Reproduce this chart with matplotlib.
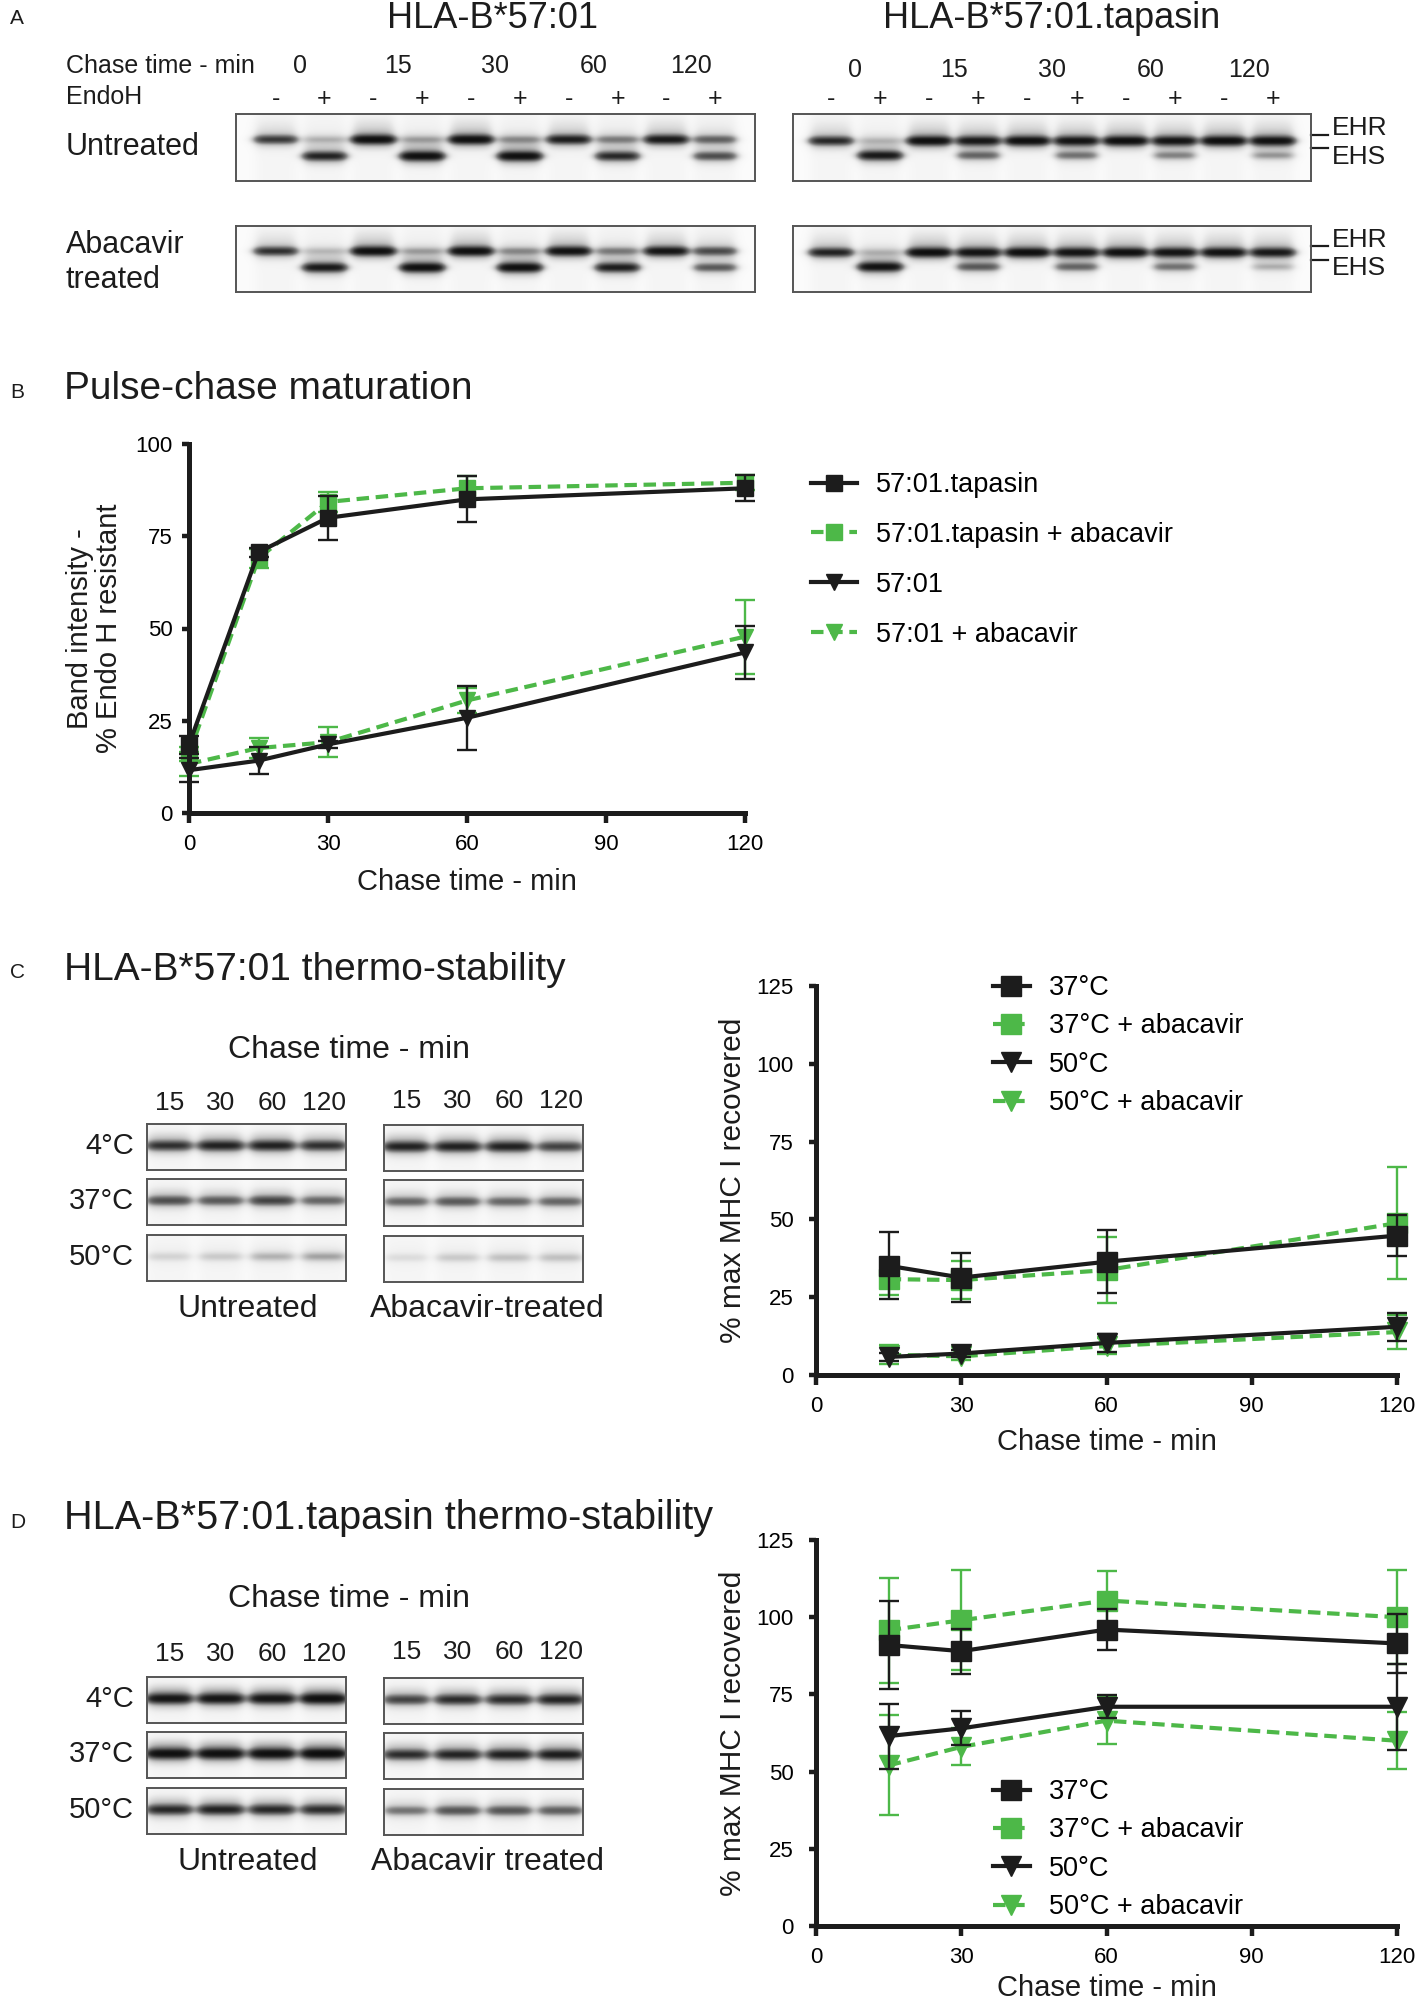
import numpy as np
import matplotlib
matplotlib.use("Agg")
import matplotlib.pyplot as plt
from matplotlib import transforms

plt.rcParams['font.family'] = ['Liberation Sans', 'DejaVu Sans']

# ===== Config =====
W, H = 1418, 2002          # output size in pixels (dpi 100)
BLACK = '#1c1c1c'
GREEN = '#4db848'
TICK_SIZE = 16
# ==================

# ----- panel A gels: (EHR, EHS) band strength per lane, lanes 0-,0+,15-,15+ ... 120+ -----
a_times = ['0', '15', '30', '60', '120']
a_endoh = ['-', '+'] * 5
gel_5701_untreated = [(0.55, 0.0), (0.12, 0.70), (0.95, 0.0), (0.15, 0.95), (0.95, 0.0),
                      (0.20, 0.95), (0.75, 0.0), (0.25, 0.65), (0.80, 0.0), (0.35, 0.45)]
gel_5701_abacavir = [(0.60, 0.0), (0.10, 0.80), (0.95, 0.0), (0.15, 0.95), (0.95, 0.0),
                     (0.20, 0.95), (0.90, 0.0), (0.25, 0.75), (0.85, 0.0), (0.45, 0.40)]
gel_tap_untreated = [(0.65, 0.0), (0.10, 0.80), (0.95, 0.0), (0.80, 0.35), (0.95, 0.0),
                     (0.85, 0.30), (0.97, 0.0), (0.85, 0.25), (0.97, 0.0), (0.90, 0.20)]
gel_tap_abacavir = [(0.70, 0.0), (0.10, 0.90), (0.97, 0.0), (0.85, 0.40), (0.97, 0.0),
                    (0.85, 0.35), (0.95, 0.0), (0.85, 0.30), (0.90, 0.0), (0.80, 0.15)]

# ----- panel B: pulse-chase maturation -----
b_time = [0, 15, 30, 60, 120]
tap = [18.5, 70.7, 80.0, 85.0, 88.0]
tap_err = [2.5, 1.2, 6.0, 6.2, 3.5]
tap_aba = [16.0, 69.0, 84.3, 88.0, 89.5]
tap_aba_err = [2.0, 2.5, 2.8, 3.2, 2.0]
b5701 = [11.6, 14.2, 18.6, 25.8, 43.5]
b5701_err = [3.2, 3.6, 1.0, 8.7, 7.2]
b5701_aba = [13.3, 17.6, 19.2, 30.5, 47.8]
b5701_aba_err = [3.2, 2.6, 4.1, 3.5, 10.0]

# ----- panels C/D gels: band strength per lane (15, 30, 60, 120 min) -----
cd_times = ['15', '30', '60', '120']
cd_temps = ['4°C', '37°C', '50°C']
c_gel_untreated = [[0.60, 0.70, 0.70, 0.60], [0.45, 0.40, 0.50, 0.35], [0.08, 0.10, 0.15, 0.18]]
c_gel_abacavir = [[0.70, 0.70, 0.70, 0.50], [0.35, 0.40, 0.35, 0.35], [0.06, 0.10, 0.12, 0.12]]
d_gel_untreated = [[0.85, 0.85, 0.85, 0.95], [0.95, 0.95, 0.95, 1.00], [0.65, 0.70, 0.65, 0.62]]
d_gel_abacavir = [[0.50, 0.62, 0.62, 0.68], [0.62, 0.68, 0.72, 0.75], [0.30, 0.42, 0.42, 0.38]]

# ----- panels C/D: thermo-stability curves -----
cd_time = [15, 30, 60, 120]
c37 = [35.1, 31.3, 36.4, 44.8]
c37_err = [10.8, 8.0, 10.1, 6.5]
c37_aba = [30.8, 30.5, 33.7, 48.8]
c37_aba_err = [5.0, 6.0, 10.5, 18.0]
c50 = [5.8, 6.9, 10.3, 15.5]
c50_err = [1.2, 1.0, 2.8, 4.5]
c50_aba = [6.5, 6.0, 9.3, 13.8]
c50_aba_err = [3.0, 1.2, 2.5, 5.4]

d37 = [91.0, 89.0, 96.0, 91.5]
d37_err = [14.3, 7.3, 6.5, 9.5]
d37_aba = [95.8, 99.0, 105.4, 100.0]
d37_aba_err = [17.0, 16.2, 9.5, 15.2]
d50 = [61.5, 64.0, 71.0, 71.0]
d50_err = [10.5, 5.5, 3.8, 14.0]
d50_aba = [52.0, 58.0, 66.5, 60.0]
d50_aba_err = [16.2, 6.0, 7.5, 9.2]

legend_b = ['57:01.tapasin', '57:01.tapasin + abacavir', '57:01', '57:01 + abacavir']
legend_cd = ['37°C', '37°C + abacavir', '50°C', '50°C + abacavir']


fig = plt.figure(figsize=(W / 100, H / 100), dpi=100)


def box(x0, y0, x1, y1):
    """Axes placed by pixel corners (top-left origin)."""
    return fig.add_axes([x0 / W, 1 - y1 / H, (x1 - x0) / W, (y1 - y0) / H])


def label(x, y, s, size, **kw):
    kw.setdefault('ha', 'left')
    kw.setdefault('va', 'center')
    fig.text(x / W, 1 - y / H, s, fontsize=size, color=BLACK, **kw)


def gel_image(lanes, rows, margin, sigma, width=0.82):
    n = len(lanes)
    xs = np.linspace(-margin, n - 1 + margin, 700)
    ys = np.linspace(0, 1, 160)
    X, Y = np.meshgrid(xs, ys)
    dens = np.zeros_like(X)
    for i, bands in enumerate(lanes):
        across = 1 / (1 + np.exp((np.abs(X - i) - width / 2) / 0.06))
        dens += 0.025 * across
        for row, amt in zip(rows, bands):
            dens += amt * across * np.exp(-((Y - row) / sigma) ** 2)
            dens += 0.35 * amt * across * np.exp(-((Y - row) / (2.2 * sigma)) ** 2)
            dens += 0.08 * amt * across * np.exp(-((Y - row + 0.18) / 0.15) ** 2)
    return 0.03 + 0.97 * (1 - np.exp(-2.2 * dens))


def draw_gel(x0, y0, x1, y1, lanes, rows, margin, sigma):
    ax = box(x0, y0, x1, y1)
    n = len(lanes)
    ax.imshow(gel_image(lanes, rows, margin, sigma), cmap='Greys', vmin=0, vmax=1,
              aspect='auto', interpolation='bilinear',
              extent=(-margin, n - 1 + margin, 1, 0))
    ax.set_xlim(-margin, n - 1 + margin)
    ax.set_ylim(1, 0)
    ax.set_xticks([])
    ax.set_yticks([])
    for s in ax.spines.values():
        s.set_color('#555555')
        s.set_linewidth(1.4)
    return ax


def lane_text(ax, xs, texts, y, size):
    tr = transforms.blended_transform_factory(ax.transData, fig.transFigure)
    for x, t in zip(xs, texts):
        ax.text(x, 1 - y / H, t, transform=tr, ha='center', va='center',
                fontsize=size, color=BLACK)


def ehr_ehs(ax):
    for yl, yt, t in [(0.69, 0.79, 'EHR'), (0.49, 0.36, 'EHS')]:
        ax.plot([1.0, 1.033], [yl, yl], color=BLACK, lw=1.6,
                transform=ax.transAxes, clip_on=False)
        ax.text(1.04, yt, t, transform=ax.transAxes, ha='left', va='center',
                fontsize=19, color=BLACK)


def style_chart(ax, ymax, yticks, ypad):
    ax.set_xlim(0, 120)
    ax.set_ylim(0, ymax)
    ax.set_xticks([0, 30, 60, 90, 120])
    ax.set_yticks(yticks)
    for s in ['top', 'right']:
        ax.spines[s].set_visible(False)
    for s in ['left', 'bottom']:
        ax.spines[s].set_linewidth(3.6)
        ax.spines[s].set_color(BLACK)
    ax.tick_params(axis='x', width=3.2, length=7, labelsize=TICK_SIZE, pad=8, color=BLACK)
    ax.tick_params(axis='y', width=3.2, length=5, labelsize=TICK_SIZE, pad=ypad, color=BLACK)
    ax.set_facecolor('none')


def series(ax, x, y, err, color, marker, dashed, ms):
    ax.errorbar(x, y, yerr=err, fmt='none', ecolor=color, elinewidth=1.7,
                capsize=7, capthick=1.7, clip_on=False)
    ls = (0, (3, 1.6)) if dashed else '-'
    line, = ax.plot(x, y, color=color, marker=marker, ms=ms, lw=3.0, ls=ls,
                    clip_on=False)
    return line


def legend(ax, handles, names, x, y, hl, spacing):
    ax.legend(handles, names, loc='upper left', bbox_to_anchor=(x / W, 1 - y / H),
              bbox_transform=fig.transFigure, frameon=False, fontsize=19.5,
              handlelength=hl, handletextpad=0.7, labelspacing=spacing,
              borderpad=0, borderaxespad=0, numpoints=1)


# ===== A: EndoH gels =====
label(10, 19, 'A', 15)
label(492, 19, 'HLA-B*57:01', 26, ha='center')
label(1052, 19, 'HLA-B*57:01.tapasin', 26, ha='center')
label(66, 66, 'Chase time - min', 18)
label(66, 97, 'EndoH', 18)
label(66, 147, 'Untreated', 22)
label(66, 245, 'Abacavir', 22)
label(66, 280, 'treated', 22)

a_rows_left = (0.38, 0.63)
a_rows_right = (0.40, 0.62)
lanes_a = np.arange(10)
ax = draw_gel(236, 114, 755, 181, gel_5701_untreated, a_rows_left, 0.81, 0.055)
lane_text(ax, lanes_a[::2] + 0.5, a_times, 66, 18)
lane_text(ax, lanes_a, a_endoh, 99, 18)
draw_gel(236, 226, 755, 292, gel_5701_abacavir, a_rows_left, 0.81, 0.055)
ax = draw_gel(793, 114, 1311, 181, gel_tap_untreated, a_rows_right, 0.77, 0.055)
lane_text(ax, lanes_a[::2] + 0.5, a_times, 70, 18)
lane_text(ax, lanes_a, a_endoh, 99, 18)
ehr_ehs(ax)
ax = draw_gel(793, 226, 1311, 292, gel_tap_abacavir, a_rows_right, 0.77, 0.055)
ehr_ehs(ax)

# ===== B: pulse-chase maturation =====
label(10, 392, 'B', 15)
label(64, 389, 'Pulse-chase maturation', 28)
ax = box(189, 444, 745, 813)
style_chart(ax, 100, [0, 25, 50, 75, 100], 7)
g1 = series(ax, b_time, tap_aba, tap_aba_err, GREEN, 's', True, 12)
g2 = series(ax, b_time, b5701_aba, b5701_aba_err, GREEN, 'v', True, 12)
k1 = series(ax, b_time, tap, tap_err, BLACK, 's', False, 12)
k2 = series(ax, b_time, b5701, b5701_err, BLACK, 'v', False, 12)
ax.set_xlabel('Chase time - min', fontsize=21, color=BLACK)
ax.xaxis.set_label_coords(0.5, -0.15)
ax.set_ylabel('Band intensity -\n% Endo H resistant', fontsize=21, color=BLACK,
              linespacing=1.05)
ax.yaxis.set_label_coords(-0.118, 0.5)
legend(ax, [k1, g1, k2, g2], legend_b, 811, 472, 1.7, 0.88)


# ===== C / D: thermo-stability =====
def thermo_gels(top, shift, gel_l, gel_r, captions):
    label(349, top, 'Chase time - min', 23, ha='center')
    row_tops = [74, 129, 185]
    idx = np.arange(4)
    for k, (lt, rt) in enumerate(zip(gel_l, gel_r)):
        y0 = top + row_tops[k] + shift
        axl = draw_gel(147, y0, 346, y0 + 46, [[v] for v in lt], (0.47,), 0.43, 0.09)
        axr = draw_gel(384, y0 + 1, 583, y0 + 47, [[v] for v in rt], (0.47,), 0.43, 0.09)
        label(134, y0 + 22, cd_temps[k], 21, ha='right')
        if k == 0:
            lane_text(axl, idx, cd_times, top + 53 + shift / 2, 19)
            lane_text(axr, idx, cd_times, top + 51 + shift / 2, 19)
    label(248, top + 259 + shift, captions[0], 23, ha='center')
    label(487, top + 259 + shift, captions[1], 23, ha='center')


def thermo_chart(y0, y1, s37, e37, s37a, e37a, s50, e50, s50a, e50a, leg_y, xlab_y):
    ax = box(816, y0, 1397, y1)
    style_chart(ax, 125, [0, 25, 50, 75, 100, 125], 11)
    g1 = series(ax, cd_time, s37a, e37a, GREEN, 's', True, 14.5)
    g2 = series(ax, cd_time, s50a, e50a, GREEN, 'v', True, 14.5)
    k1 = series(ax, cd_time, s37, e37, BLACK, 's', False, 14.5)
    k2 = series(ax, cd_time, s50, e50, BLACK, 'v', False, 14.5)
    ax.set_xlabel('Chase time - min', fontsize=21, color=BLACK)
    ax.xaxis.set_label_coords(0.5, xlab_y)
    ax.set_ylabel('% max MHC I recovered', fontsize=21.5, color=BLACK)
    ax.yaxis.set_label_coords(-0.118, 0.5)
    legend(ax, [k1, g1, k2, g2], legend_cd, 993, leg_y, 1.35, 0.46)


label(10, 973, 'C', 15)
label(64, 970, 'HLA-B*57:01 thermo-stability', 28)
thermo_gels(1050, 0, c_gel_untreated, c_gel_abacavir, ['Untreated', 'Abacavir-treated'])
thermo_chart(986, 1375, c37, c37_err, c37_aba, c37_aba_err, c50, c50_err,
             c50_aba, c50_aba_err, 975, -0.135)

label(10, 1522, 'D', 15)
label(64, 1518, 'HLA-B*57:01.tapasin thermo-stability', 28.5)
thermo_gels(1599, 4, d_gel_untreated, d_gel_abacavir, ['Untreated', 'Abacavir treated'])
thermo_chart(1540, 1926, d37, d37_err, d37_aba, d37_aba_err, d50, d50_err,
             d50_aba, d50_aba_err, 1779, -0.125)

fig.savefig('out.png', dpi=100)
